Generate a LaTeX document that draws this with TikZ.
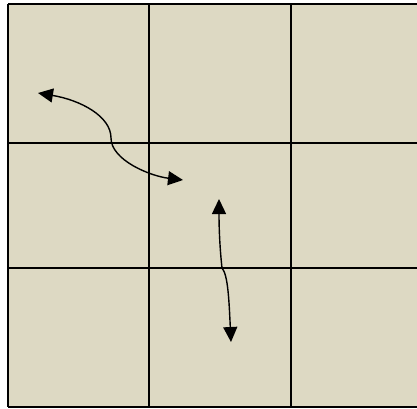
\documentclass[tikz,border=0pt]{standalone}
\usepackage{xcolor}
\usepackage{tikz}
\usetikzlibrary{arrows.meta}
\definecolor{cellfill}{HTML}{DDD9C3}

\begin{document}
\begin{tikzpicture}[
  x=1pt, y=1pt,
  gridline/.style={draw=black, line width=1.8pt},
  arr/.style={{Triangle[length=15pt,width=14pt]}-{Triangle[length=15pt,width=14pt]}, line width=1.4pt, color=black}
]
  \useasboundingbox[fill=white] (0,0) rectangle (417,-408);
  \clip (0,0) rectangle (417,-408);
  \fill[cellfill] (8,-4) rectangle (440,-407);
  \foreach \x in {8,149,291,433}
    \draw[gridline] (\x,-4) -- (\x,-407);
  \foreach \y in {4,143,268,407}
    \draw[gridline] (8,-\y) -- (440,-\y);
  \coordinate (lefttip) at (38,-93);
  \coordinate (bend) at (111,-138);
  \coordinate (righttip) at (183,-180);
  \coordinate (uptip) at (219,-199);
  \coordinate (kink) at (222,-268);
  \coordinate (downtip) at (231,-342);
  \draw[arr] (lefttip) .. controls (80,-100) and (111,-116) .. (bend)
    .. controls (111,-160) and (150,-176) .. (righttip);
  \draw[arr] (uptip) .. controls (219,-230) and (220,-250) .. (kink)
    .. controls (228,-275) and (229,-300) .. (downtip);
\end{tikzpicture}
\end{document}
